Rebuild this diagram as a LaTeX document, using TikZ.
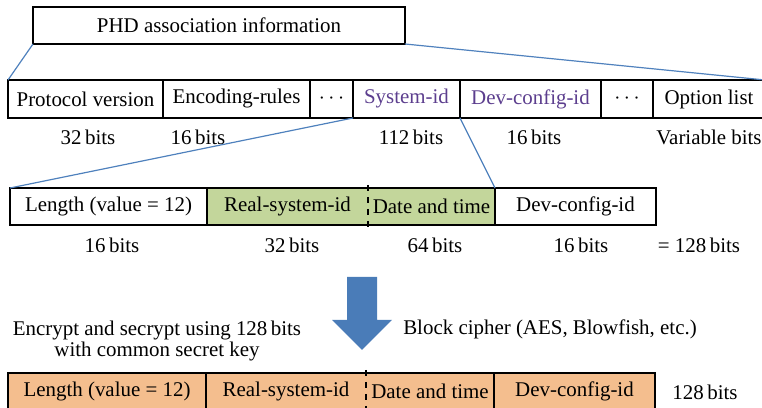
\documentclass[tikz,border=0pt]{standalone}
\usepackage{fontspec}
\setmainfont{Liberation Serif}
\usepackage{tikz}
\usetikzlibrary{positioning}

\definecolor{linkblue}{RGB}{79,129,189}
\definecolor{arrowblue}{RGB}{74,124,184}
\definecolor{idpurple}{RGB}{92,62,142}
\definecolor{realgreen}{RGB}{195,214,155}
\definecolor{cipherorange}{RGB}{244,190,142}

\begin{document}
\begin{tikzpicture}[
  x=0.5bp, y=-0.5bp,
  font=\fontsize{10.5}{11}\selectfont,
  cell/.style={draw, line width=0.6bp, minimum width=#1*0.5bp, minimum height=19bp, inner sep=0pt, outer sep=0pt},
  field/.style={minimum width=#1*0.5bp, minimum height=18.5bp, inner sep=0pt, outer sep=0pt},
  bits/.style={inner sep=0pt},
  link/.style={draw=linkblue, line width=0.6bp}
]
  \useasboundingbox (0,0) rectangle (762,408);

  % Header
  \node[cell=372, minimum height=18.5bp, anchor=west] (phd) at (33,25.5) {PHD association information};

  % Association fields
  \node[cell=155, anchor=west] (proto) at (8,99) {Protocol version};
  \node[cell=147, right=0pt of proto] (enc) {Encoding-rules};
  \node[cell=43, right=0pt of enc] (dotsa) {$\cdots$};
  \node[cell=107, right=0pt of dotsa, text=idpurple] (sysid) {System-id};
  \node[cell=141, right=0pt of sysid, text=idpurple] (devcfg) {Dev-config-id};
  \node[cell=52, right=0pt of devcfg] (dotsb) {$\cdots$};
  \node[cell=112, right=0pt of dotsb] (option) {Option list};

  \node[bits] (bproto) at (88,137) {32\,bits};
  \node[bits] (benc) at (198,137) {16\,bits};
  \node[bits] (bsys) at (411,137) {112\,bits};
  \node[bits] (bdev) at (534,137) {16\,bits};
  \node[bits] (bopt) at (709,137) {Variable bits};

  % System-id in detail
  \node[field=197, anchor=west] (len) at (10,206.5) {Length (value = 12)};
  \node[field=161, fill=realgreen, right=0pt of len] (real) {Real-system-id};
  \node[field=127, fill=realgreen, right=0pt of real] (date) {Date and time};
  \node[field=161, right=0pt of date] (dev) {Dev-config-id};
  \draw[line width=0.6bp] (len.north west) rectangle (dev.south east);
  \draw[line width=0.6bp] (len.north east) -- (len.south east)
    (date.north east) -- (date.south east);
  \draw[dashed, line width=0.6bp] ([yshift=1.5bp]real.north east) -- ([yshift=-1.5bp]real.south east);

  \node[bits] (blen) at (112,245) {16\,bits};
  \node[bits] (breal) at (292,245) {32\,bits};
  \node[bits] (bdate) at (435,245) {64\,bits};
  \node[bits] (bdevb) at (581,245) {16\,bits};
  \node[bits] (btotal) at (699,245) {=\ 128\,bits};

  % Zoom lines
  \draw[link] (phd.south west) -- (proto.north west);
  \draw[link] (phd.south east) -- (option.north east);
  \draw[link] (sysid.south west) -- (len.north west);
  \draw[link] (sysid.south east) -- (date.north east);

  % Block arrow
  \fill[arrowblue] (347,277) -- (377,277) -- (377,320) -- (392,320) -- (362,350)
    -- (332,320) -- (347,320) -- cycle;
  \node[align=center, inner sep=0pt] (encrypt) at (157,341) {Encrypt and secrypt using 128\,bits\\with common secret key};
  \node[inner sep=0pt] (cipher) at (550,329) {Block cipher (AES, Blowfish, etc.)};

  % Encrypted block
  \node[field=198, fill=cipherorange, anchor=west] (elen) at (8,391.5) {Length (value = 12)};
  \node[field=160, fill=cipherorange, right=0pt of elen] (ereal) {Real-system-id};
  \node[field=128, fill=cipherorange, right=0pt of ereal] (edate) {Date and time};
  \node[field=161, fill=cipherorange, right=0pt of edate] (edev) {Dev-config-id};
  \draw[line width=0.6bp] (elen.north west) rectangle (edev.south east);
  \draw[line width=0.6bp] (elen.north east) -- (elen.south east)
    (edate.north east) -- (edate.south east);
  \draw[dashed, line width=0.6bp] ([yshift=1.5bp]ereal.north east) -- ([yshift=-1.5bp]ereal.south east);

  \node[bits] (bcipher) at (705,392) {128\,bits};
\end{tikzpicture}
\end{document}
